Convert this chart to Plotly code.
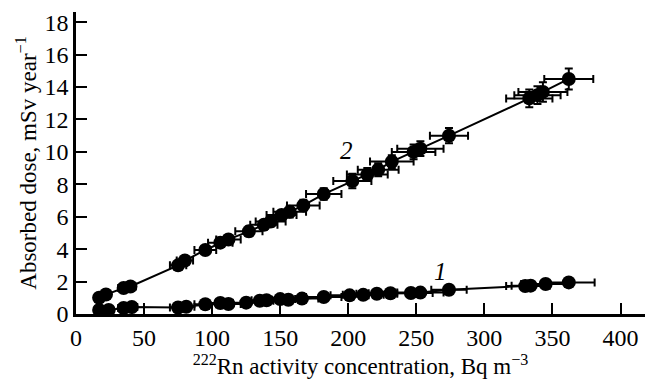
import plotly.graph_objects as go

# Series 2 (upper)
x2 = [17, 22, 35, 40, 75, 80, 95, 106, 112, 127, 138, 143, 151, 157, 167, 182, 203, 214, 222, 232, 248, 253, 274, 333, 339, 343, 362]
y2 = [1.0, 1.2, 1.6, 1.7, 3.0, 3.3, 3.95, 4.4, 4.6, 5.1, 5.5, 5.7, 6.1, 6.3, 6.7, 7.4, 8.2, 8.6, 8.9, 9.4, 10.0, 10.2, 11.0, 13.3, 13.5, 13.7, 14.5]
ex2 = [3, 3, 4, 4, 6, 6, 8, 9, 9, 10, 10, 11, 11, 12, 12, 13, 14, 15, 15, 16, 16, 17, 14, 17, 17, 18, 18]
ey2 = [0.1, 0.1, 0.15, 0.15, 0.2, 0.2, 0.25, 0.25, 0.25, 0.3, 0.3, 0.3, 0.3, 0.35, 0.35, 0.35, 0.45, 0.4, 0.4, 0.4, 0.45, 0.45, 0.47, 0.55, 0.55, 0.6, 0.65]

# Series 1 (lower)
x1 = [17, 24, 35, 41, 75, 81, 95, 106, 112, 125, 135, 140, 150, 156, 166, 182, 201, 211, 221, 231, 246, 253, 274, 330, 334, 345, 362]
y1 = [0.25, 0.25, 0.37, 0.43, 0.4, 0.45, 0.6, 0.68, 0.62, 0.7, 0.82, 0.85, 0.92, 0.88, 0.95, 1.05, 1.15, 1.18, 1.25, 1.28, 1.3, 1.32, 1.5, 1.72, 1.75, 1.85, 1.95]
ex1 = [3, 3, 4, 4, 6, 6, 8, 9, 9, 10, 10, 11, 11, 12, 12, 13, 14, 15, 15, 16, 16, 17, 13, 14, 14, 18, 19]
ey1 = [0.05, 0.05, 0.05, 0.05, 0.06, 0.06, 0.06, 0.06, 0.06, 0.07, 0.07, 0.07, 0.07, 0.07, 0.07, 0.08, 0.08, 0.08, 0.08, 0.08, 0.08, 0.08, 0.09, 0.1, 0.1, 0.1, 0.1]

x_ticks = [0, 50, 100, 150, 200, 250, 300, 350, 400]
y_ticks = [0, 2, 4, 6, 8, 10, 12, 14, 16, 18]

FONT = "Liberation Serif, Times New Roman, serif"

fig = go.Figure()
for xs, ys, exs, eys in [(x1, y1, ex1, ey1), (x2, y2, ex2, ey2)]:
    fig.add_trace(go.Scatter(
        x=xs, y=ys, mode="lines+markers",
        line=dict(color="black", width=2),
        marker=dict(color="black", size=14),
        error_x=dict(type="data", array=exs, color="black", thickness=2, width=4),
        error_y=dict(type="data", array=eys, color="black", thickness=2, width=4),
        showlegend=False,
    ))

fig.add_annotation(x=268, y=2.6, text="<i>1</i>", showarrow=False,
                   font=dict(family=FONT, size=25, color="black"))
fig.add_annotation(x=199, y=10.1, text="<i>2</i>", showarrow=False,
                   font=dict(family=FONT, size=25, color="black"))

axis_common = dict(
    showline=True, linecolor="black", linewidth=2.5,
    ticks="inside", ticklen=11, tickwidth=2, tickcolor="black",
    showgrid=False, zeroline=False,
    tickfont=dict(family=FONT, size=24, color="black"),
)

fig.update_layout(
    width=645, height=380,
    margin=dict(l=76, r=0, t=12, b=66),
    paper_bgcolor="white", plot_bgcolor="white",
    xaxis=dict(range=[0, 418], tickvals=x_ticks,
               title=dict(text="<sup>222</sup>Rn activity concentration, Bq m<sup>−3</sup>",
                          font=dict(family=FONT, size=23, color="black"), standoff=2),
               **axis_common),
    yaxis=dict(range=[0, 18.63], tickvals=y_ticks,
               title=dict(text="Absorbed dose, mSv year<sup>−1</sup>",
                          font=dict(family=FONT, size=23, color="black"), standoff=2),
               **axis_common),
)

fig.write_html("out.html")
